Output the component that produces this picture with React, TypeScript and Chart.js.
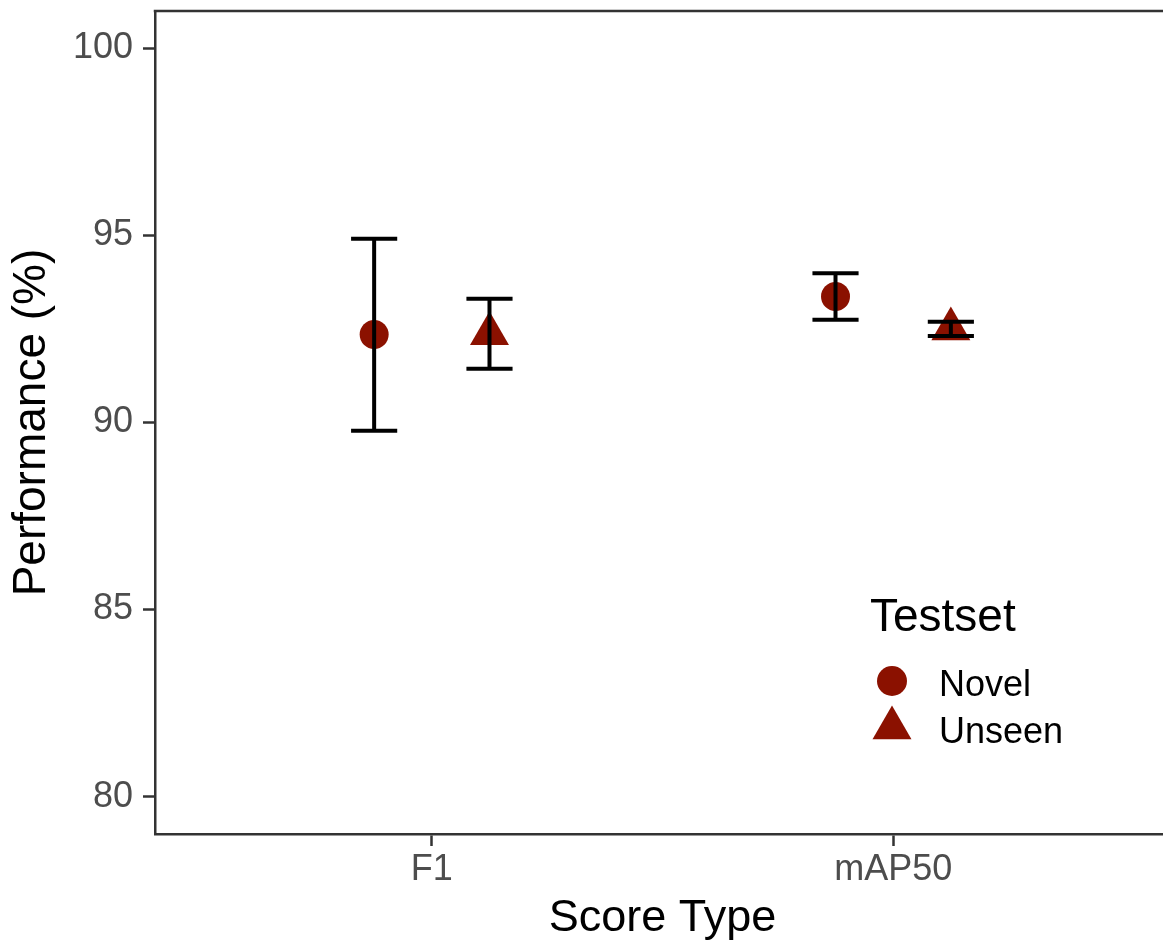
import React, { useEffect, useRef } from 'react';
import { Chart, registerables } from 'chart.js';

Chart.register(...registerables);

// ---- data ----
const categories = ['F1', 'mAP50'];
const testsets = ['Novel', 'Unseen'];
const novelMean = [92.35, 93.37];
const novelLow = [89.78, 92.75];
const novelHigh = [94.91, 93.99];
const unseenMean = [92.37, 92.5];
const unseenLow = [91.44, 92.31];
const unseenHigh = [93.31, 92.69];
const yTicks = [80, 85, 90, 95, 100];

// ---- styling ----
const DODGE = 0.125;
const CAP_WIDTH = 0.1;
const RED = '#8b1100';
const AXIS = '#333333';
const TICK_TEXT = '#4d4d4d';
const FONT = "'Liberation Sans', Arial, Helvetica, sans-serif";
const CANVAS_W = 1180;
const CANVAS_H = 947;

const errorBarPlugin = {
  id: 'errorBars',
  afterDatasetsDraw(chart: any) {
    const { ctx, scales } = chart;
    const x = scales.x;
    const y = scales.y;
    ctx.save();
    ctx.strokeStyle = '#000000';
    ctx.lineWidth = 4;
    ctx.lineCap = 'butt';
    chart.data.datasets.forEach((ds: any) => {
      ds.data.forEach((p: any, i: number) => {
        const px = x.getPixelForValue(p.x);
        const lo = y.getPixelForValue(ds.errLow[i]);
        const hi = y.getPixelForValue(ds.errHigh[i]);
        const half =
          (x.getPixelForValue(p.x + CAP_WIDTH / 2) - x.getPixelForValue(p.x - CAP_WIDTH / 2)) / 2;
        ctx.beginPath();
        ctx.moveTo(px, lo);
        ctx.lineTo(px, hi);
        ctx.moveTo(px - half, lo);
        ctx.lineTo(px + half, lo);
        ctx.moveTo(px - half, hi);
        ctx.lineTo(px + half, hi);
        ctx.stroke();
      });
    });
    ctx.restore();
  },
};

const topBorderPlugin = {
  id: 'topBorder',
  afterDraw(chart: any) {
    const { ctx, chartArea } = chart;
    ctx.save();
    ctx.strokeStyle = AXIS;
    ctx.lineWidth = 2.5;
    ctx.beginPath();
    ctx.moveTo(chartArea.left - 1.25, chartArea.top);
    ctx.lineTo(chartArea.right, chartArea.top);
    ctx.stroke();
    ctx.restore();
  },
};

const legendPlugin = {
  id: 'innerLegend',
  afterDraw(chart: any) {
    const { ctx, chartArea } = chart;
    const x0 = chartArea.left + 715;
    const yTitle = chartArea.top + 620;
    ctx.save();
    ctx.fillStyle = '#000000';
    ctx.textBaseline = 'alphabetic';
    ctx.textAlign = 'left';
    ctx.font = `46px ${FONT}`;
    ctx.fillText('Testset', x0, yTitle);
    ctx.font = `36px ${FONT}`;
    const rows = chart.data.datasets;
    rows.forEach((ds: any, i: number) => {
      const cy = yTitle + 50 + i * 47;
      const cx = x0 + 22;
      ctx.fillStyle = RED;
      ctx.beginPath();
      if (ds.pointStyle === 'triangle') {
        const r = 22.5;
        ctx.moveTo(cx, cy - r);
        ctx.lineTo(cx + r * Math.sin(Math.PI / 3), cy + r / 2);
        ctx.lineTo(cx - r * Math.sin(Math.PI / 3), cy + r / 2);
        ctx.closePath();
      } else {
        ctx.arc(cx, cy, 15, 0, Math.PI * 2);
      }
      ctx.fill();
      ctx.fillStyle = '#000000';
      ctx.fillText(ds.label, x0 + 69, cy + 14.5);
    });
    ctx.restore();
  },
};

const zeroPadding = (s: any) => {
  s.paddingTop = 0;
  s.paddingBottom = 0;
  s.paddingLeft = 0;
  s.paddingRight = 0;
};

export default function App() {
  const ref = useRef<HTMLCanvasElement>(null);

  useEffect(() => {
    document.body.style.margin = '0';
    const canvas = ref.current;
    if (!canvas) return;

    const makeSet = (label: string, mean: number[], low: number[], high: number[], offset: number, style: string, radius: number) => ({
      label,
      data: categories.map((_, i) => ({ x: i + 1 + offset, y: mean[i] })),
      errLow: low,
      errHigh: high,
      pointStyle: style,
      pointRadius: radius,
      pointHoverRadius: radius,
      backgroundColor: RED,
      borderColor: RED,
      borderWidth: 0,
      showLine: false,
    });

    const chart = new Chart(canvas, {
      type: 'scatter',
      data: {
        datasets: [
          makeSet(testsets[0], novelMean, novelLow, novelHigh, -DODGE, 'circle', 14.5),
          makeSet(testsets[1], unseenMean, unseenLow, unseenHigh, DODGE, 'triangle', 22.5),
        ] as any,
      },
      options: {
        responsive: false,
        maintainAspectRatio: false,
        animation: false,
        devicePixelRatio: 1,
        layout: { autoPadding: false, padding: { top: 11, right: 10, left: 0, bottom: 0 } },
        plugins: {
          legend: { display: false },
          tooltip: { enabled: false },
        },
        scales: {
          x: {
            type: 'linear',
            min: 0.4,
            max: 2.6,
            afterBuildTicks: (s: any) => {
              s.ticks = categories.map((_, i) => ({ value: i + 1 }));
            },
            afterFit: (s: any) => {
              s.height = 113;
              zeroPadding(s);
            },
            ticks: {
              callback: (v: any) => categories[Number(v) - 1] ?? '',
              font: { family: FONT, size: 36 },
              color: TICK_TEXT,
              padding: 2,
              maxRotation: 0,
              autoSkip: false,
            },
            grid: {
              display: true,
              drawOnChartArea: false,
              drawTicks: true,
              tickLength: 12,
              tickColor: AXIS,
              tickWidth: 2.5,
            },
            border: { display: true, color: AXIS, width: 2.5 },
            title: {
              display: true,
              text: 'Score Type',
              color: '#000000',
              font: { family: FONT, size: 45 },
              padding: { top: 0, bottom: 1 },
            },
          },
          y: {
            type: 'linear',
            min: 79,
            max: 101,
            afterBuildTicks: (s: any) => {
              s.ticks = yTicks.map((v) => ({ value: v }));
            },
            afterFit: (s: any) => {
              s.width = 155;
              zeroPadding(s);
            },
            ticks: {
              font: { family: FONT, size: 36 },
              color: TICK_TEXT,
              padding: 10,
            },
            grid: {
              display: true,
              drawOnChartArea: false,
              drawTicks: true,
              tickLength: 12,
              tickColor: AXIS,
              tickWidth: 2.5,
            },
            border: { display: true, color: AXIS, width: 2.5 },
            title: {
              display: true,
              text: 'Performance (%)',
              color: '#000000',
              font: { family: FONT, size: 46 },
              padding: { top: 4.5, bottom: 0 },
            },
          },
        },
      } as any,
      plugins: [errorBarPlugin, topBorderPlugin, legendPlugin],
    });

    return () => chart.destroy();
  }, []);

  return (
    <div style={{ width: 1163, height: CANVAS_H, overflow: 'hidden', position: 'relative', background: '#ffffff' }}>
      <canvas
        ref={ref}
        width={CANVAS_W}
        height={CANVAS_H}
        style={{ display: 'block', width: CANVAS_W, height: CANVAS_H, maxWidth: 'none' }}
      />
    </div>
  );
}
